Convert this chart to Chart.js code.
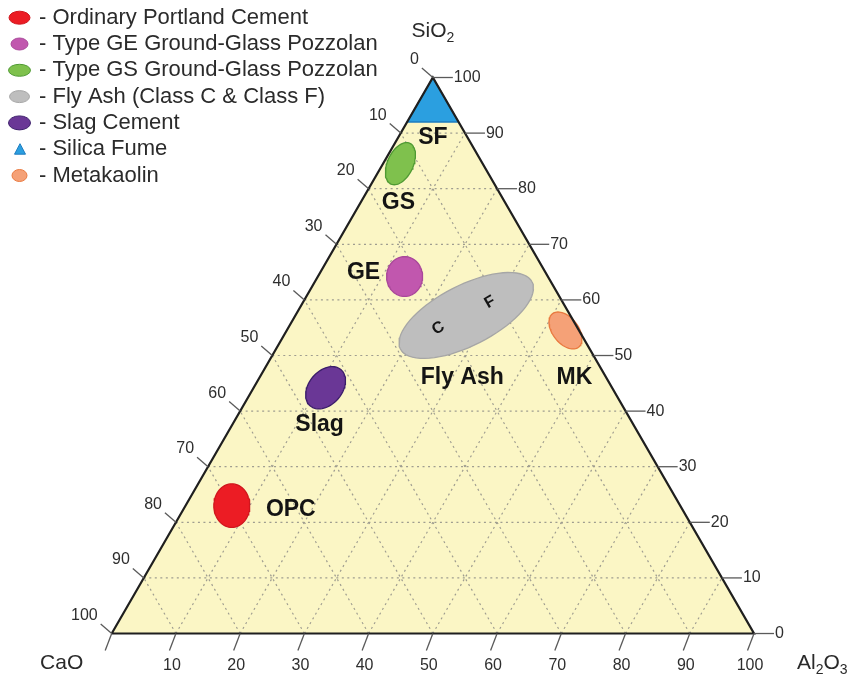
<!DOCTYPE html>
<html lang="en">
<head>
<meta charset="UTF-8">
<title>Ternary diagram CaO - SiO2 - Al2O3</title>
<script src="https://cdn.jsdelivr.net/npm/chart.js@4.4.1/dist/chart.umd.min.js"></script>
<style>
    body { margin: 0; background: #fff; }
    #wrap { width: 858px; height: 677px; }
</style>
</head>
<body>
<div id="wrap"><canvas id="ternario" width="858" height="677"></canvas></div>

<script>
// materials, in legend order
const materiais = ['Ordinary Portland Cement', 'Type GE Ground-Glass Pozzolan', 'Type GS Ground-Glass Pozzolan',
    'Fly Ash (Class C & Class F)', 'Slag Cement', 'Silica Fume', 'Metakaolin'];
const siglas = ['OPC', 'GE', 'GS', 'Fly Ash', 'Slag', 'SF', 'MK'];

// centre of each field (% by mass, CaO is the rest)
const sio2  = [23.0, 64.2, 84.5, 57.2, 44.2, 100, 54.5];
const al2o3 = [ 7.2, 13.5,  2.7, 26.6, 11.2,   0, 43.4];
// spread of each field (% of a side) and tilt in degrees
const eixoMaior  = [3.4, 3.1, 3.5, 11.5, 3.7, 0, 3.3];
const eixoMenor  = [2.8, 2.8, 2.0,  4.7, 2.6, 0, 2.0];
const inclinacao = [90, 90, 65, 27, 50, 0, -52];
// silica fume is the corner above this SiO2
const sfLimite = 92;

// fly ash classes
const classes = ['C', 'F'];
const classeSio2  = [54.9, 59.6];
const classeAl2o3 = [23.4, 29.1];

// axis ticks
const escala = [0, 10, 20, 30, 40, 50, 60, 70, 80, 90, 100];

const H = Math.sqrt(3) / 2;

// ternary -> plane: x along CaO-Al2O3 side, y = SiO2
function toXY(si, al) {
    return { x: al + si / 2, y: si };
}

function elipse(i) {
    const c = toXY(sio2[i], al2o3[i]);
    const t = inclinacao[i] * Math.PI / 180;
    const pts = [];
    for (let k = 0; k <= 72; k++) {
        const a = k / 72 * 2 * Math.PI;
        const dx = eixoMaior[i] * Math.cos(a) * Math.cos(t) - eixoMenor[i] * Math.sin(a) * Math.sin(t);
        const dy = eixoMaior[i] * Math.cos(a) * Math.sin(t) + eixoMenor[i] * Math.sin(a) * Math.cos(t);
        pts.push({ x: c.x + dx, y: c.y + dy / H });
    }
    return pts;
}

function grade(tipo) {
    const pts = [];
    escala.slice(1, -1).forEach(function (v) {
        if (tipo === 'si') pts.push(toXY(v, 0), toXY(v, 100 - v));
        if (tipo === 'al') pts.push(toXY(0, v), toXY(100 - v, v));
        if (tipo === 'ca') pts.push(toXY(0, 100 - v), toXY(100 - v, 0));
        pts.push({ x: null, y: null });
    });
    return pts;
}

const cores = ['#ec1c24', '#c157ae', '#7fc14d', '#bebebe', '#6a3796', '#2b9fe0', '#f5a177'];
const bordas = ['#d0161d', '#a9479a', '#4f9a33', '#a6a6a6', '#3b1d6a', '#1d7cc0', '#e9793f'];

const triangulo = [toXY(0, 0), toXY(0, 100), toXY(100, 0), toXY(0, 0)];

const datasets = [];
datasets.push({ data: triangulo, showLine: true, fill: 'shape', backgroundColor: '#fbf6c5', borderWidth: 0, pointRadius: 0, order: 10 });
['si', 'al', 'ca'].forEach(function (t) {
    datasets.push({ data: grade(t), showLine: true, spanGaps: false, borderColor: '#9f9d90', borderWidth: 1.2,
        borderDash: [2, 3.5], pointRadius: 0, order: 9 });
});
materiais.forEach(function (nome, i) {
    let pts;
    if (siglas[i] === 'SF') {
        pts = [toXY(100, 0), toXY(sfLimite, 0), toXY(sfLimite, 100 - sfLimite), toXY(100, 0)];
    } else {
        pts = elipse(i);
    }
    datasets.push({ label: nome, data: pts, showLine: true, fill: 'shape', backgroundColor: cores[i],
        borderColor: bordas[i], borderWidth: 1.3, pointRadius: 0, order: 5 });
});
datasets.push({ data: triangulo, showLine: true, fill: false, borderColor: '#1f1f1f', borderWidth: 2.2, pointRadius: 0, order: 1 });

// text like SiO2 with subscripts
function quimica(ctx, partes, x, y, align, tam) {
    let w = 0;
    partes.forEach(function (p) {
        ctx.font = (p[1] ? Math.round(tam * 0.68) : tam) + 'px "Liberation Sans", Arial, sans-serif';
        w += ctx.measureText(p[0]).width;
    });
    let cx = align === 'center' ? x - w / 2 : x;
    ctx.textAlign = 'left';
    ctx.textBaseline = 'middle';
    partes.forEach(function (p) {
        ctx.font = (p[1] ? Math.round(tam * 0.68) : tam) + 'px "Liberation Sans", Arial, sans-serif';
        ctx.fillText(p[0], cx, p[1] ? y + tam * 0.3 : y);
        cx += ctx.measureText(p[0]).width;
    });
}

const eixos = {
    id: 'eixos',
    afterDatasetsDraw(chart) {
        const ctx = chart.ctx;
        const xs = chart.scales.x, ys = chart.scales.y;
        const px = function (si, al) {
            const p = toXY(si, al);
            return [xs.getPixelForValue(p.x), ys.getPixelForValue(p.y)];
        };
        ctx.save();
        ctx.strokeStyle = '#5a5a5a';
        ctx.lineWidth = 1.3;
        ctx.fillStyle = '#2e2e2e';
        ctx.font = '16px "Liberation Sans", Arial, sans-serif';
        escala.forEach(function (v) {
            // CaO on the left side
            let p = px(100 - v, 0);
            ctx.beginPath(); ctx.moveTo(p[0], p[1]); ctx.lineTo(p[0] - 11, p[1] - 9.5); ctx.stroke();
            ctx.textAlign = 'right'; ctx.textBaseline = 'middle';
            ctx.fillText(String(v), p[0] - 14, p[1] - 18);
            // Al2O3 along the bottom
            p = px(0, v);
            ctx.beginPath(); ctx.moveTo(p[0], p[1]); ctx.lineTo(p[0] - 6.5, p[1] + 17); ctx.stroke();
            if (v > 0) {
                ctx.textAlign = 'center';
                ctx.fillText(String(v), p[0] - 4, p[1] + 32);
            }
            // SiO2 on the right side
            p = px(v, 100 - v);
            ctx.beginPath(); ctx.moveTo(p[0], p[1]); ctx.lineTo(p[0] + 20, p[1]); ctx.stroke();
            ctx.textAlign = 'left';
            ctx.fillText(String(v), p[0] + 21, p[1]);
        });

        // corner names
        ctx.fillStyle = '#2a2a2a';
        let p = px(100, 0);
        quimica(ctx, [['SiO', 0], ['2', 1]], p[0], p[1] - 46, 'center', 21);
        p = px(0, 0);
        quimica(ctx, [['CaO', 0]], p[0] - 50, p[1] + 30, 'center', 21);
        p = px(0, 100);
        quimica(ctx, [['Al', 0], ['2', 1], ['O', 0], ['3', 1]], p[0] + 43, p[1] + 30, 'left', 21);

        // field names
        const desloc = { OPC: [59, 4], GE: [-41, -4], GS: [-2, 39], 'Fly Ash': [-4, 62], Slag: [-6, 37], SF: [0, 60], MK: [9, 47] };
        ctx.fillStyle = '#141414';
        ctx.font = 'bold 23px "Liberation Sans", Arial, sans-serif';
        ctx.textAlign = 'center';
        ctx.textBaseline = 'middle';
        siglas.forEach(function (s, i) {
            const c = px(sio2[i], al2o3[i]);
            ctx.fillText(s, c[0] + desloc[s][0], c[1] + desloc[s][1]);
        });
        ctx.font = 'bold 16px "Liberation Sans", Arial, sans-serif';
        classes.forEach(function (s, i) {
            const c = px(classeSio2[i], classeAl2o3[i]);
            ctx.save();
            ctx.translate(c[0], c[1]);
            ctx.rotate(-30 * Math.PI / 180);
            ctx.fillText(s, 0, 0);
            ctx.restore();
        });
        ctx.restore();
    }
};

const legenda = {
    id: 'legenda',
    afterDraw(chart) {
        const ctx = chart.ctx;
        const raios = [[10.5, 6.5], [8.5, 6], [11, 6], [10, 6], [11, 7], [0, 0], [7.5, 6]];
        ctx.save();
        materiais.forEach(function (nome, i) {
            const y = 17.7 + i * 26.3;
            ctx.fillStyle = cores[i];
            ctx.strokeStyle = bordas[i];
            ctx.lineWidth = 1;
            ctx.beginPath();
            if (siglas[i] === 'SF') {
                ctx.moveTo(20, y - 5.5); ctx.lineTo(25.5, y + 5); ctx.lineTo(14.5, y + 5); ctx.closePath();
            } else {
                ctx.ellipse(19.5, y, raios[i][0], raios[i][1], 0, 0, 2 * Math.PI);
            }
            ctx.fill();
            ctx.stroke();
            ctx.fillStyle = '#2b2b2b';
            ctx.font = '22px "Liberation Sans", Arial, sans-serif';
            ctx.textAlign = 'left';
            ctx.textBaseline = 'middle';
            ctx.fillText('- ' + nome, 39, y);
        });
        ctx.restore();
    }
};

new Chart(document.getElementById('ternario'), {
    type: 'scatter',
    data: { datasets: datasets },
    options: {
        responsive: false,
        animation: false,
        layout: { padding: 0 },
        plugins: { legend: { display: false }, tooltip: { enabled: false } },
        scales: {
            x: { type: 'linear', min: -17.39, max: 116.19, display: false },
            y: { type: 'linear', min: -7.82, max: 113.94, display: false }
        }
    },
    plugins: [eixos, legenda]
});
</script>
</body>
</html>
